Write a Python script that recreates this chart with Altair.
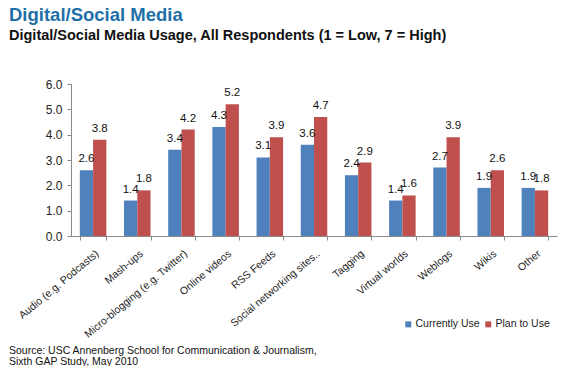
import altair as alt
import pandas as pd

categories = ["Audio (e.g. Podcasts)", "Mash-ups", "Micro-blogging (e.g. Twitter)",
              "Online videos", "RSS Feeds", "Social networking sites..", "Tagging",
              "Virtual worlds", "Weblogs", "Wikis", "Other"]
currently_use = [2.6, 1.4, 3.4, 4.3, 3.1, 3.6, 2.4, 1.4, 2.7, 1.9, 1.9]
plan_to_use = [3.8, 1.8, 4.2, 5.2, 3.9, 4.7, 2.9, 1.6, 3.9, 2.6, 1.8]
series = ["Currently Use", "Plan to Use"]
colors = ["#4F81BD", "#C0504D"]
y_ticks = [0, 1, 2, 3, 4, 5, 6]
source_lines = ["Source: USC Annenberg School for Communication & Journalism,",
                "Sixth GAP Study, May 2010"]

rows = []
for c, a, b in zip(categories, currently_use, plan_to_use):
    rows.append({"category": c, "series": series[0], "value": a})
    rows.append({"category": c, "series": series[1], "value": b})
df = pd.DataFrame(rows)

FONT = "Liberation Sans"

x = alt.X("category:N", sort=categories, title=None,
          scale=alt.Scale(paddingInner=0.4, paddingOuter=0.2),
          axis=alt.Axis(labelAngle=-40, labelAlign="right", labelBaseline="middle",
                        labelFontSize=10.5, labelColor="#222", labelFont=FONT,
                        tickBand="extent", tickSize=4, tickColor="#888",
                        domainColor="#888", labelPadding=12, labelOffset=4,
                        labelOverlap=False))
y = alt.Y("value:Q", title=None,
          scale=alt.Scale(domain=[0, 6]),
          axis=alt.Axis(values=y_ticks, format=".1f", grid=False, labelOverlap=False,
                        labelFontSize=12, labelColor="#222", labelFont=FONT,
                        tickSize=4, tickColor="#888", domainColor="#888", labelPadding=5))

base = alt.Chart(df).encode(x=x, xOffset=alt.XOffset("series:N", sort=series))

bars = base.mark_bar().encode(
    y=y,
    color=alt.Color("series:N", sort=series,
                    scale=alt.Scale(domain=series, range=colors),
                    legend=alt.Legend(title=None, orient="none", direction="horizontal",
                                      legendX=332, legendY=235, symbolType="square",
                                      symbolSize=36, labelFontSize=10.5, labelFont=FONT,
                                      labelColor="#222", columnPadding=3, labelOffset=2,
                                      symbolStrokeWidth=0, padding=0)),
)

labels = base.mark_text(baseline="bottom", dy=-6, fontSize=11.5, font=FONT, color="#111").encode(
    y=y,
    text=alt.Text("value:Q", format=".1f"),
)

src = alt.Chart(pd.DataFrame({"t": [source_lines]})).mark_text(
    align="left", baseline="alphabetic", fontSize=10.5, font=FONT, color="#111",
    lineHeight=11,
).encode(x=alt.value(-62), y=alt.value(270), text="t")

chart = alt.layer(bars, labels, src).properties(
    width=486, height=152,
    autosize=alt.AutoSizeParams(type="none"),
    padding={"left": 63, "top": 76, "right": 2, "bottom": 130},
    title=alt.TitleParams(
        text="Digital/Social Media",
        subtitle="Digital/Social Media Usage, All Respondents (1 = Low, 7 = High)",
        anchor="start", frame="group", dx=-62, offset=36,
        font=FONT, fontSize=18.5, fontWeight="bold", color="#1E6FA8",
        subtitleFont=FONT, subtitleFontSize=14.5, subtitleFontWeight="bold",
        subtitleColor="#111", subtitlePadding=4,
    ),
).configure_view(stroke=None)

chart.save("out.html", embed_options={"renderer": "svg", "actions": False})
